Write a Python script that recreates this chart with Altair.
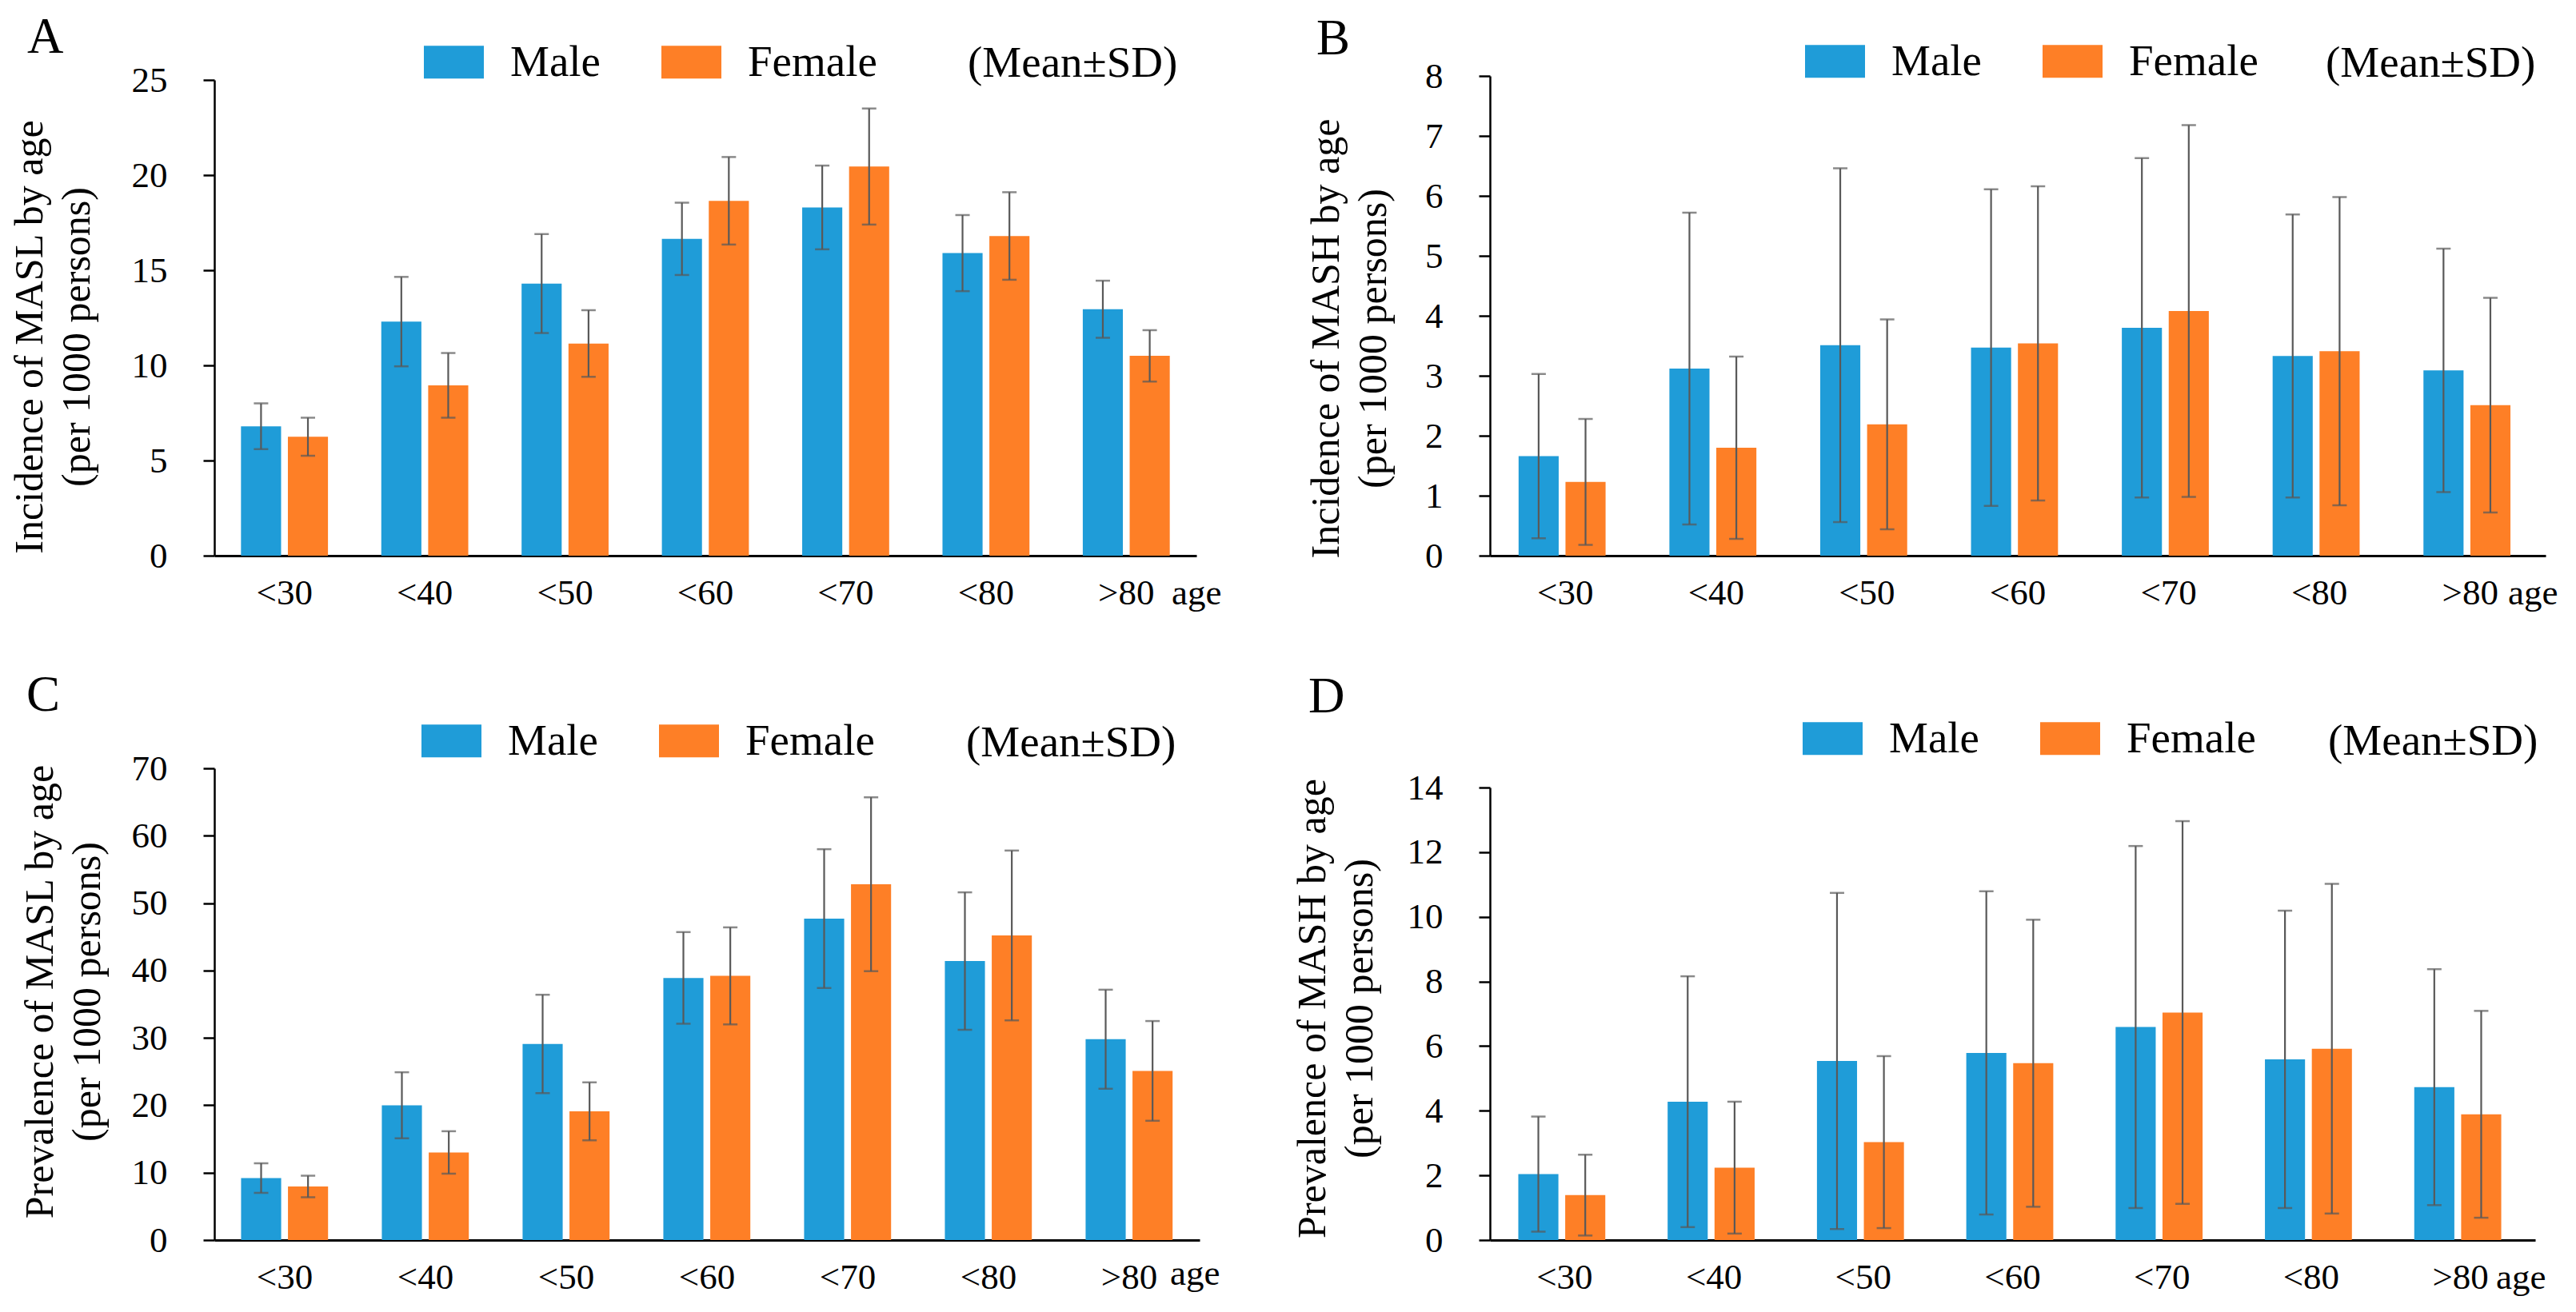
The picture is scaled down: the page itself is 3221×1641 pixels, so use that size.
import altair as alt
import pandas as pd

ages = ["<30", "<40", "<50", "<60", "<70", "<80", ">80"]
sexes = ["Male", "Female"]

# Panel A: Incidence of MASL
a_male_mean = [6.8, 12.3, 14.3, 16.65, 18.3, 15.9, 12.95]
a_male_sd = [1.2, 2.35, 2.6, 1.9, 2.2, 2.0, 1.5]
a_female_mean = [6.25, 8.95, 11.15, 18.65, 20.45, 16.8, 10.5]
a_female_sd = [1.0, 1.7, 1.75, 2.3, 3.05, 2.3, 1.35]

# Panel B: Incidence of MASH
b_male_mean = [1.66, 3.12, 3.51, 3.47, 3.80, 3.33, 3.09]
b_male_sd = [1.37, 2.6, 2.95, 2.64, 2.83, 2.36, 2.03]
b_female_mean = [1.23, 1.80, 2.19, 3.54, 4.08, 3.41, 2.51]
b_female_sd = [1.05, 1.52, 1.75, 2.62, 3.1, 2.57, 1.79]

# Panel C: Prevalence of MASL
c_male_mean = [9.2, 20.0, 29.1, 38.9, 47.7, 41.4, 29.8]
c_male_sd = [2.2, 4.9, 7.3, 6.8, 10.3, 10.2, 7.35]
c_female_mean = [7.95, 13.0, 19.1, 39.2, 52.8, 45.2, 25.1]
c_female_sd = [1.6, 3.15, 4.3, 7.2, 12.9, 12.6, 7.4]

# Panel D: Prevalence of MASH
d_male_mean = [2.04, 4.28, 5.54, 5.79, 6.59, 5.59, 4.73]
d_male_sd = [1.78, 3.88, 5.2, 5.0, 5.6, 4.6, 3.65]
d_female_mean = [1.39, 2.24, 3.03, 5.47, 7.04, 5.92, 3.89]
d_female_sd = [1.25, 2.04, 2.66, 4.44, 5.92, 5.1, 3.2]

FONT = "Liberation Serif"
BLUE = "#1f9cd8"
ORANGE = "#fe7f26"
ERR = "#595959"


def make_df(mm, ms, fm, fs):
    rows = []
    for i, a in enumerate(ages):
        rows.append({"age": a, "sex": "Male", "mean": mm[i], "lo": mm[i] - ms[i], "hi": mm[i] + ms[i]})
        rows.append({"age": a, "sex": "Female", "mean": fm[i], "lo": fm[i] - fs[i], "hi": fm[i] + fs[i]})
    return pd.DataFrame(rows)


def text_layer(txt, size, px, py):
    return alt.Chart(pd.DataFrame({"k": [0]})).mark_text(
        text=txt, font=FONT, fontSize=size, align="left", baseline="alphabetic", color="black"
    ).encode(x=alt.value(px), y=alt.value(py))


def panel(p):
    df = make_df(*p["data"])
    H = p["height"]
    x = alt.X("age:N", sort=ages,
              scale=alt.Scale(paddingInner=0.38, paddingOuter=0.19),
              axis=alt.Axis(title=None, labelAngle=0, ticks=False, tickSize=0, labelPadding=60,
                            labelBaseline="alphabetic", labelFont=FONT, labelFontSize=45,
                            labelColor="black", domainColor="black", domainWidth=3, grid=False))
    xo = alt.XOffset("sex:N", sort=sexes, scale=alt.Scale(paddingInner=0.145))
    yscale = alt.Scale(domain=[0, p["ymax"]], nice=False, range=[H, p["top"]])
    yaxis = alt.Axis(title=p["title"], values=list(range(0, p["ymax"] + 1, p["ystep"])), format="d",
                     grid=False, tickSize=14, tickWidth=2.5, tickColor="black",
                     domainColor="black", domainWidth=2.5, labelFont=FONT, labelFontSize=45,
                     labelColor="black", labelPadding=45,
                     titleFont=FONT, titleFontSize=50, titleFontWeight="normal", titleColor="black",
                     titleX=p["title_x"], titleY=p["title_y"], titleAlign="center",
                     titleBaseline="alphabetic", titleAngle=270, titleLineHeight=59)
    color = alt.Color("sex:N", scale=alt.Scale(domain=sexes, range=[BLUE, ORANGE]),
                      legend=alt.Legend(title=None, orient="none", legendX=p["legend"][0],
                                        legendY=p["legend"][1], direction="horizontal",
                                        symbolType="M-1,-0.547L1,-0.547L1,0.547L-1,0.547Z",
                                        symbolSize=5625, symbolStrokeWidth=0, symbolOpacity=1,
                                        labelFont=FONT, labelFontSize=55, labelColor="black",
                                        labelOffset=33, columnPadding=75, labelLimit=0))
    base = alt.Chart(df)
    bars = base.mark_bar().encode(x=x, xOffset=xo, y=alt.Y("mean:Q", scale=yscale, axis=yaxis), color=color)
    rule = base.mark_rule(color=ERR, strokeWidth=2.2).encode(
        x=x, xOffset=xo, y=alt.Y("lo:Q", scale=yscale, axis=yaxis), y2="hi:Q")
    caps = base.transform_fold(["lo", "hi"], as_=["k", "v"]).mark_tick(
        color=ERR, thickness=2.5, size=18).encode(
        x=x, xOffset=xo, y=alt.Y("v:Q", scale=yscale, axis=yaxis))
    layers = [bars, rule, caps,
              text_layer(p["letter"], 63, *p["letter_xy"]),
              text_layer("(Mean\u00b1SD)", 55, *p["note_xy"]),
              text_layer("age", 45, *p["age_xy"])]
    return alt.layer(*layers).properties(width=p["width"], height=H)


A = panel(dict(data=(a_male_mean, a_male_sd, a_female_mean, a_female_sd), height=600, top=5,
               ymax=25, ystep=5, width=1228, letter="A", letter_xy=(-234, -29),
               legend=(262, -55), note_xy=(942, 1), age_xy=(1197, 661), title_x=-216, title_y=326,
               title=["Incidence of MASL by age", "(per 1000 persons)"]))
B = panel(dict(data=(b_male_mean, b_male_sd, b_female_mean, b_female_sd), height=600, top=0,
               ymax=8, ystep=1, width=1320, letter="B", letter_xy=(-217, -27),
               legend=(394, -56), note_xy=(1045, 1), age_xy=(1273, 661), title_x=-190, title_y=328,
               title=["Incidence of MASH by age", "(per 1000 persons)"]))
C = panel(dict(data=(c_male_mean, c_male_sd, c_female_mean, c_female_sd), height=590, top=0,
               ymax=70, ystep=10, width=1232, letter="C", letter_xy=(-235, -72),
               legend=(259, -72), note_xy=(940, -15), age_xy=(1195, 646), title_x=-203, title_y=279,
               title=["Prevalence of MASL by age", "(per 1000 persons)"]))
D = panel(dict(data=(d_male_mean, d_male_sd, d_female_mean, d_female_sd), height=590, top=24,
               ymax=14, ystep=2, width=1307, letter="D", letter_xy=(-227, -70),
               legend=(391, -75), note_xy=(1048, -17), age_xy=(1258, 651), title_x=-207, title_y=300,
               title=["Prevalence of MASH by age", "(per 1000 persons)"]))

chart = alt.concat(A, B, C, D, columns=2, spacing={"row": 266, "column": 363},
                   bounds="flush", align="each").resolve_scale(
    color="independent").resolve_legend(color="independent").configure_view(
    stroke=None).properties(padding={"left": 4, "top": 8, "right": 4, "bottom": 4}, background="white")

chart.save("out.html", embed_options={"renderer": "svg", "actions": False})
